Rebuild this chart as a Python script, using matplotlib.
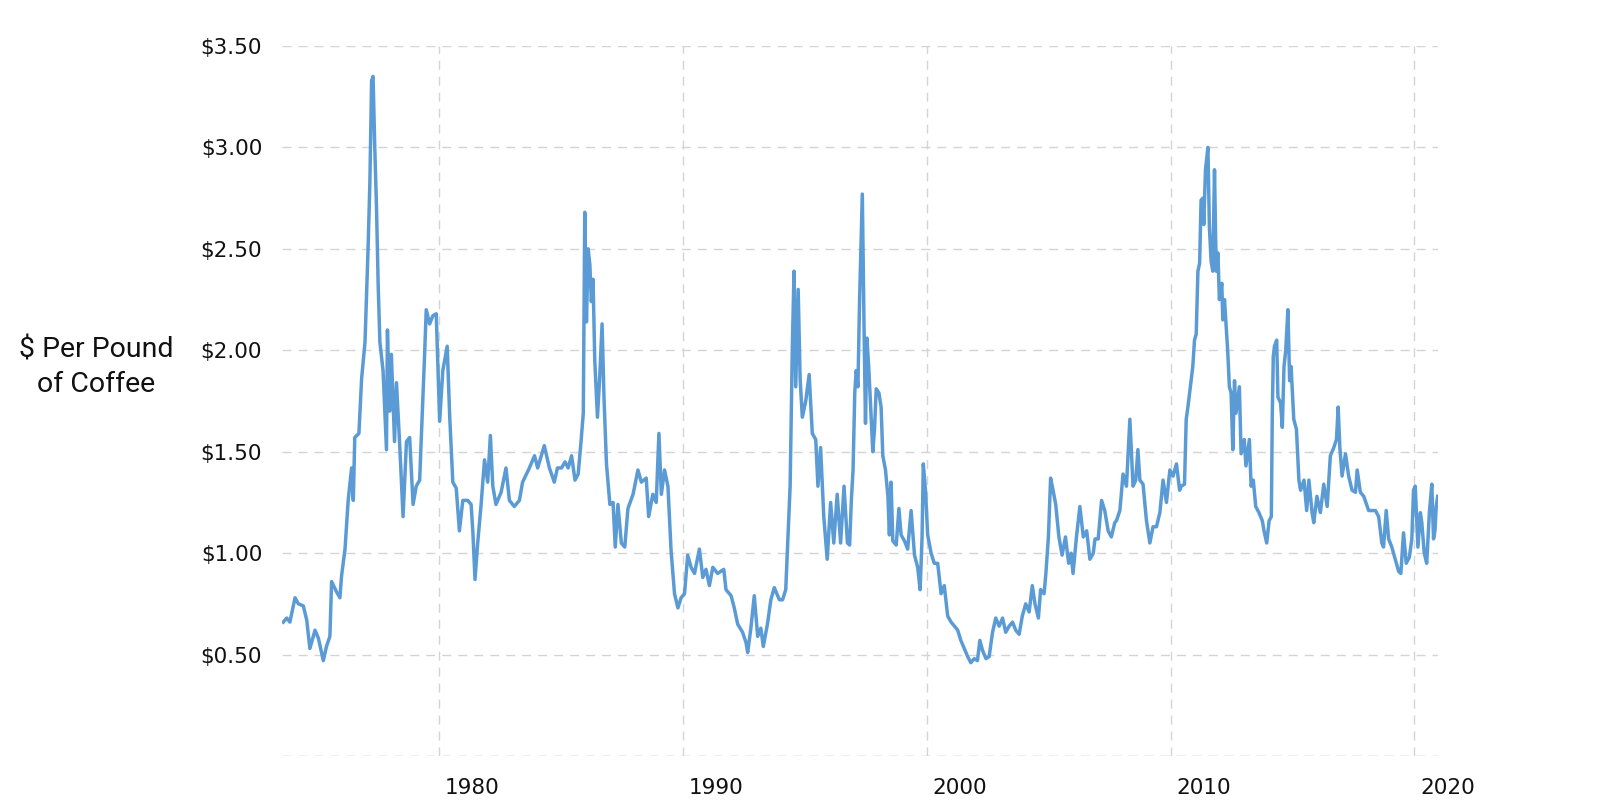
import matplotlib
matplotlib.use("Agg")
import matplotlib.pyplot as plt
import matplotlib.transforms as mtransforms
from matplotlib.ticker import FuncFormatter

# coffee price, $ per pound
years_a = [1973.62, 1973.76, 1973.89, 1974.10, 1974.24, 1974.44, 1974.58, 1974.71,
           1974.92, 1975.06, 1975.26, 1975.39, 1975.53, 1975.60, 1975.80, 1975.94,
           1976.01, 1976.15, 1976.28, 1976.42, 1976.49, 1976.55, 1976.72, 1976.83,
           1976.97, 1977.03, 1977.10, 1977.17, 1977.24, 1977.30, 1977.37, 1977.44,
           1977.51, 1977.58, 1977.71, 1977.85, 1977.89, 1977.98, 1978.05, 1978.18,
           1978.26, 1978.39, 1978.53, 1978.67, 1978.80, 1978.94, 1979.07, 1979.21,
           1979.41, 1979.48, 1979.62, 1979.75, 1979.89, 1980.03, 1980.16, 1980.34,
           1980.44, 1980.57, 1980.71, 1980.84, 1980.98, 1981.18, 1981.32, 1981.39,
           1981.48, 1981.59, 1981.73, 1981.87, 1982.00, 1982.11, 1982.21, 1982.34,
           1982.55, 1982.75, 1982.89, 1983.09, 1983.30, 1983.43, 1983.71, 1983.92,
           1984.05, 1984.32, 1984.53, 1984.73, 1984.86]
price_a = [0.66, 0.68, 0.66, 0.78, 0.75, 0.74, 0.67, 0.53,
           0.62, 0.58, 0.47, 0.54, 0.59, 0.86, 0.81, 0.78,
           0.89, 1.02, 1.26, 1.42, 1.26, 1.57, 1.59, 1.86,
           2.04, 2.26, 2.52, 2.83, 3.33, 3.35, 3.00, 2.71,
           2.32, 2.04, 1.90, 1.51, 2.10, 1.70, 1.98, 1.55,
           1.84, 1.54, 1.18, 1.55, 1.57, 1.24, 1.33, 1.36,
           1.97, 2.20, 2.13, 2.17, 2.18, 1.65, 1.90, 2.02,
           1.68, 1.35, 1.32, 1.11, 1.26, 1.26, 1.24, 1.11,
           0.87, 1.05, 1.24, 1.46, 1.35, 1.58, 1.33, 1.24,
           1.30, 1.42, 1.26, 1.23, 1.26, 1.35, 1.42, 1.48,
           1.42, 1.53, 1.42, 1.35, 1.42]

years_b = [1985.03, 1985.17, 1985.30, 1985.44, 1985.58, 1985.71, 1985.82, 1985.92,
           1985.98, 1986.05, 1986.12, 1986.19, 1986.25, 1986.32, 1986.39, 1986.50,
           1986.59, 1986.69, 1986.77, 1986.87, 1987.01, 1987.14, 1987.23, 1987.34,
           1987.48, 1987.62, 1987.75, 1987.96, 1988.16, 1988.30, 1988.50, 1988.60,
           1988.77, 1988.91, 1989.02, 1989.12, 1989.25, 1989.39, 1989.52, 1989.66,
           1989.80, 1989.93, 1990.07, 1990.20, 1990.34, 1990.48, 1990.68, 1990.82,
           1990.95, 1991.09, 1991.23, 1991.43, 1991.68, 1991.77, 1991.98, 1992.11,
           1992.25, 1992.45, 1992.59, 1992.66, 1992.79, 1992.93, 1993.07, 1993.20,
           1993.30, 1993.47, 1993.61, 1993.75, 1993.96, 1994.09, 1994.22, 1994.32,
           1994.40, 1994.49, 1994.56, 1994.63, 1994.73, 1994.81, 1994.90, 1995.04,
           1995.18, 1995.31, 1995.45, 1995.54, 1995.65, 1995.78, 1995.92, 1996.06,
           1996.19, 1996.33, 1996.47, 1996.61, 1996.75]
price_b = [1.42, 1.45, 1.42, 1.48, 1.36, 1.39, 1.54, 1.69,
           2.68, 2.14, 2.50, 2.42, 2.24, 2.35, 1.95, 1.67,
           1.86, 2.13, 1.76, 1.44, 1.24, 1.25, 1.03, 1.24,
           1.05, 1.03, 1.22, 1.29, 1.41, 1.35, 1.37, 1.18,
           1.29, 1.25, 1.59, 1.29, 1.41, 1.33, 1.01, 0.80,
           0.73, 0.78, 0.80, 0.99, 0.93, 0.90, 1.02, 0.88,
           0.92, 0.84, 0.93, 0.90, 0.92, 0.82, 0.79, 0.73,
           0.65, 0.61, 0.56, 0.51, 0.63, 0.79, 0.59, 0.63,
           0.54, 0.65, 0.77, 0.83, 0.77, 0.77, 0.82, 1.10,
           1.33, 2.01, 2.39, 1.82, 2.30, 1.86, 1.67, 1.75,
           1.88, 1.59, 1.56, 1.33, 1.52, 1.18, 0.97, 1.25,
           1.05, 1.29, 1.05, 1.33, 1.05]

years_c = [1996.84, 1996.91, 1996.98, 1997.05, 1997.11, 1997.18, 1997.25, 1997.36,
           1997.43, 1997.49, 1997.55, 1997.63, 1997.72, 1997.79, 1997.86, 1997.93,
           1998.04, 1998.13, 1998.20, 1998.31, 1998.41, 1998.47, 1998.54, 1998.61,
           1998.75, 1998.86, 1998.95, 1999.09, 1999.22, 1999.36, 1999.50, 1999.63,
           1999.73, 1999.81, 1999.86, 1999.95, 2000.04, 2000.18, 2000.31, 2000.45,
           2000.59, 2000.72, 2000.86, 2001.00, 2001.14, 2001.27, 2001.40, 2001.54,
           2001.68, 2001.81, 2001.95, 2002.08, 2002.18, 2002.29, 2002.43, 2002.56,
           2002.70, 2002.83, 2002.97, 2003.11, 2003.24, 2003.38, 2003.52, 2003.65,
           2003.79, 2003.92, 2004.06, 2004.20, 2004.33, 2004.44, 2004.58, 2004.67,
           2004.81, 2004.88, 2004.99, 2005.08, 2005.18, 2005.29, 2005.42, 2005.55]
price_c = [1.04, 1.26, 1.41, 1.79, 1.90, 1.82, 2.26, 2.77,
           2.12, 1.64, 2.06, 1.90, 1.68, 1.50, 1.61, 1.81,
           1.79, 1.72, 1.48, 1.41, 1.28, 1.09, 1.35, 1.06,
           1.04, 1.22, 1.09, 1.06, 1.02, 1.21, 0.99, 0.93,
           0.82, 1.08, 1.44, 1.31, 1.09, 1.00, 0.95, 0.95,
           0.80, 0.84, 0.69, 0.66, 0.64, 0.62, 0.57, 0.53,
           0.49, 0.46, 0.48, 0.47, 0.57, 0.52, 0.48, 0.49,
           0.61, 0.68, 0.64, 0.68, 0.61, 0.64, 0.66, 0.62,
           0.60, 0.69, 0.75, 0.71, 0.84, 0.75, 0.68, 0.82,
           0.80, 0.89, 1.08, 1.37, 1.31, 1.24, 1.08, 0.99]

years_d = [2005.69, 2005.82, 2005.92, 2006.00, 2006.14, 2006.28, 2006.42, 2006.56,
           2006.69, 2006.83, 2006.90, 2007.03, 2007.17, 2007.30, 2007.44, 2007.57,
           2007.71, 2007.78, 2007.92, 2008.05, 2008.12, 2008.19, 2008.33, 2008.46,
           2008.57, 2008.66, 2008.74, 2008.87, 2009.01, 2009.15, 2009.28, 2009.42,
           2009.56, 2009.69, 2009.83, 2009.97, 2010.10, 2010.24, 2010.37, 2010.44,
           2010.57, 2010.64, 2010.71, 2010.84, 2010.91, 2010.98, 2011.05, 2011.12,
           2011.19, 2011.25, 2011.32, 2011.36, 2011.43, 2011.53, 2011.59, 2011.66,
           2011.73, 2011.80, 2011.87, 2011.94, 2012.00, 2012.10, 2012.14, 2012.21,
           2012.34, 2012.41, 2012.48, 2012.55, 2012.62, 2012.68, 2012.82, 2012.89,
           2013.02, 2013.09, 2013.23]
price_d = [1.08, 0.95, 1.00, 0.90, 1.08, 1.23, 1.08, 1.11,
           0.97, 1.00, 1.07, 1.07, 1.26, 1.21, 1.11, 1.08,
           1.15, 1.16, 1.21, 1.39, 1.36, 1.33, 1.66, 1.33,
           1.36, 1.51, 1.36, 1.34, 1.16, 1.05, 1.13, 1.13,
           1.20, 1.36, 1.25, 1.41, 1.38, 1.44, 1.31, 1.33,
           1.34, 1.66, 1.72, 1.85, 1.92, 2.05, 2.08, 2.39,
           2.43, 2.74, 2.75, 2.62, 2.89, 3.00, 2.61, 2.44,
           2.39, 2.89, 2.39, 2.48, 2.25, 2.33, 2.15, 2.25,
           2.00, 1.82, 1.79, 1.51, 1.85, 1.69, 1.82, 1.49,
           1.56, 1.43, 1.56]

years_e = [2013.30, 2013.39, 2013.49, 2013.62, 2013.76, 2013.83, 2013.94, 2014.04,
           2014.13, 2014.17, 2014.21, 2014.26, 2014.35, 2014.40, 2014.51, 2014.58,
           2014.65, 2014.72, 2014.81, 2014.88, 2014.94, 2015.05, 2015.16, 2015.26,
           2015.33, 2015.47, 2015.58, 2015.67, 2015.80, 2015.87, 2016.00, 2016.14,
           2016.28, 2016.42, 2016.55, 2016.69, 2016.80, 2016.87, 2016.94, 2017.03,
           2017.17, 2017.30, 2017.44, 2017.58, 2017.65, 2017.78, 2017.92, 2018.12,
           2018.26, 2018.40, 2018.53, 2018.66, 2018.73, 2018.84, 2018.94, 2019.07,
           2019.21, 2019.35, 2019.44, 2019.55, 2019.66, 2019.79, 2019.89, 2019.96,
           2020.03, 2020.14, 2020.24, 2020.30, 2020.40, 2020.50, 2020.61, 2020.71,
           2020.78, 2020.84, 2020.89, 2020.95]
price_e = [1.33, 1.36, 1.23, 1.20, 1.16, 1.11, 1.05, 1.16,
           1.18, 1.69, 1.97, 2.02, 2.05, 1.77, 1.74, 1.62,
           1.92, 2.00, 2.20, 1.85, 1.92, 1.66, 1.61, 1.36,
           1.31, 1.36, 1.21, 1.36, 1.20, 1.15, 1.28, 1.20,
           1.34, 1.23, 1.48, 1.52, 1.56, 1.72, 1.52, 1.38,
           1.49, 1.38, 1.31, 1.30, 1.41, 1.30, 1.28, 1.21,
           1.21, 1.21, 1.18, 1.05, 1.03, 1.21, 1.07, 1.03,
           0.97, 0.91, 0.90, 1.10, 0.95, 0.98, 1.07, 1.31,
           1.33, 1.03, 1.20, 1.15, 1.00, 0.95, 1.20, 1.34,
           1.07, 1.11, 1.23, 1.28]

years = years_a + years_b + years_c + years_d + years_e
price = price_a + price_b + price_c + price_d + price_e

y_ticks = [0.0, 0.5, 1.0, 1.5, 2.0, 2.5, 3.0, 3.5]
x_ticks = [1980, 1990, 2000, 2010, 2020]

fig = plt.figure(figsize=(16, 8), dpi=100)
ax = fig.add_axes([0.176, 0.055, 0.723, 0.8875])

ax.plot(years, price, color="#5b9bd5", lw=2.5, solid_joinstyle="round")

ax.set_xlim(1973.55, 2020.98)
ax.set_ylim(0, 3.5)
ax.set_yticks(y_ticks)
ax.set_xticks(x_ticks)
ax.yaxis.set_major_formatter(FuncFormatter(lambda v, p: "" if v == 0 else "${:.2f}".format(v)))

for s in ax.spines.values():
    s.set_visible(False)
ax.tick_params(length=0, labelsize=15.5, colors="#111111")
ax.tick_params(axis="y", pad=14)
ax.tick_params(axis="x", pad=16)

# x labels sit just right of their gridline
off = mtransforms.ScaledTranslation(6 / 100, 0, fig.dpi_scale_trans)
for lab in ax.get_xticklabels():
    lab.set_horizontalalignment("left")
    lab.set_transform(lab.get_transform() + off)

dash = (0, (6.5, 5))
for v in y_ticks:
    ax.axhline(v, color="#aaaaaa" if v == 0 else "#d4d4d4", lw=1.0, ls=dash, zorder=0)
for v in x_ticks:
    ax.axvline(v, color="#d4d4d4", lw=1.0, ls=dash, zorder=0)

fig.text(0.06, 0.541, "$ Per Pound\nof Coffee", ha="center", va="center",
         fontsize=20.5, family="Roboto", color="#111111", linespacing=1.4)

fig.savefig("out.png", dpi=100)
